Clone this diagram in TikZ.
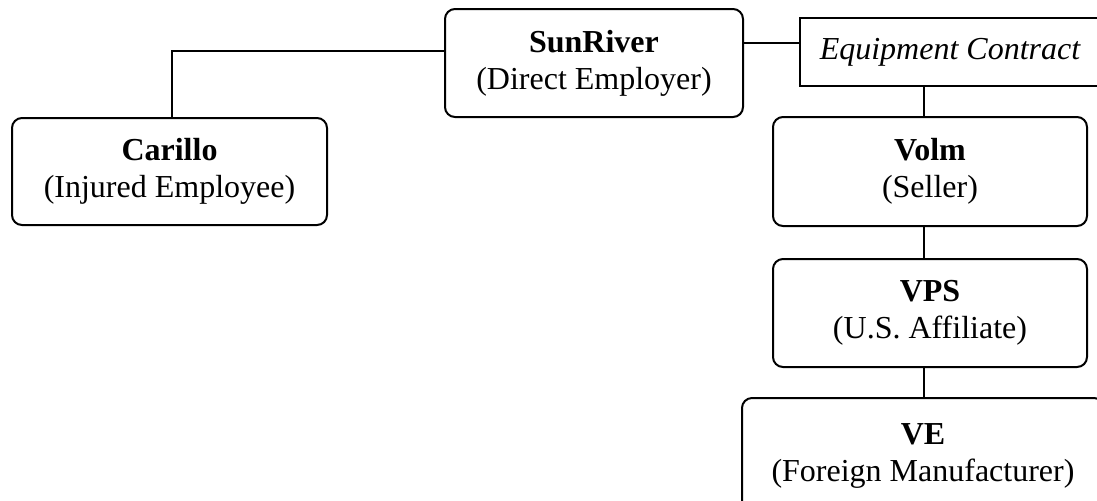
\documentclass[tikz,border=0pt]{standalone}
\usepackage{fontspec}
\setmainfont{Liberation Serif}
\usepackage{tikz}
\usetikzlibrary{positioning, calc}

\begin{document}
\begin{tikzpicture}[x=0.5pt, y=-0.5pt,
    box/.style={rectangle, draw=black, line width=1pt, rounded corners=5pt, align=center, inner sep=0pt, font=\fontsize{16}{18.5}\selectfont},
    plainbox/.style={rectangle, draw=black, line width=1pt, align=center, inner sep=0pt, font=\fontsize{16}{18.5}\selectfont\itshape},
    link/.style={line width=1pt, black}
]
    \useasboundingbox (0,0) rectangle (1097,500);

    % Employee
    \node[box, minimum width=157.5pt, minimum height=53.5pt] (carillo) at (169.5,171.5) {\textbf{Carillo}\\(Injured Employee)};

    % Employer
    \node[box, minimum width=149pt, minimum height=54pt] (sunriver) at (594,63) {\textbf{SunRiver}\\(Direct Employer)};

    % Contract
    \node[plainbox, minimum width=150pt, minimum height=34pt] (contract) at (950,52) {Equipment Contract};

    % Supply chain
    \node[box, minimum width=157pt, minimum height=54.5pt] (volm) at (930,171.5) {\textbf{Volm}\\(Seller)};
    \node[box, minimum width=157pt, minimum height=54pt] (vps) at (930,313) {\textbf{VPS}\\(U.S. Affiliate)};
    \node[box, minimum width=181pt, minimum height=58pt] (ve) at (923,456) {\textbf{VE}\\(Foreign Manufacturer)};

    % Links
    \draw[link] ([xshift=1.25pt]carillo.north) |- ([yshift=6pt]sunriver.west);
    \draw[link] ([yshift=10pt]sunriver.east) -- ([yshift=10pt]sunriver.east -| contract.west);
    \draw[link] ([xshift=-3pt]volm.north |- contract.south) -- ([xshift=-3pt]volm.north);
    \draw[link] ([xshift=-3pt]volm.south) -- ([xshift=-3pt]vps.north);
    \draw[link] ([xshift=-3pt]vps.south) -- ([xshift=-3pt]vps.south |- ve.north);

\end{tikzpicture}
\end{document}
